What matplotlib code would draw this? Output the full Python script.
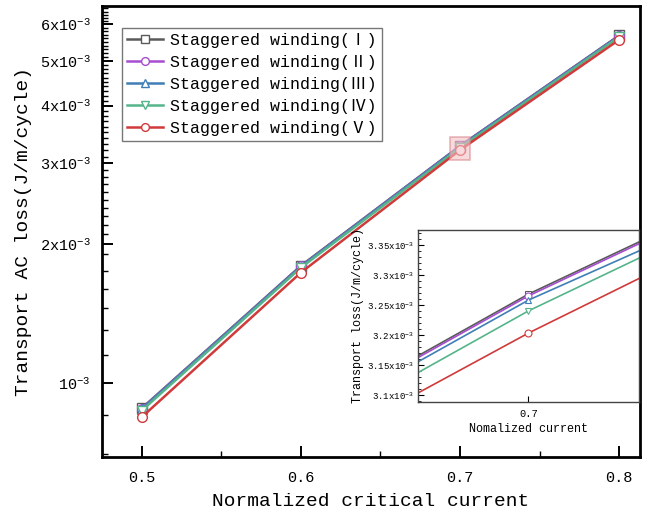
import matplotlib
matplotlib.use("Agg")
import matplotlib.pyplot as plt
import numpy as np
from matplotlib.ticker import FixedLocator, FuncFormatter, NullFormatter
from matplotlib.patches import Rectangle

plt.rcParams['font.family'] = ['Liberation Mono', 'Noto Sans CJK SC', 'DejaVu Sans']
plt.rcParams['mathtext.fontset'] = 'custom'
plt.rcParams['mathtext.rm'] = 'Liberation Mono'
plt.rcParams['mathtext.it'] = 'Liberation Mono'

# ---------------- data ----------------
x_current = [0.5, 0.6, 0.7, 0.8]
series_names = ['Staggered winding(Ⅰ)', 'Staggered winding(Ⅱ)', 'Staggered winding(Ⅲ)',
                'Staggered winding(Ⅳ)', 'Staggered winding(Ⅴ)']
loss_I = [0.880e-3, 1.795e-3, 3.268e-3, 5.68e-3]
loss_II = [0.878e-3, 1.790e-3, 3.265e-3, 5.67e-3]
loss_III = [0.876e-3, 1.787e-3, 3.258e-3, 5.66e-3]
loss_IV = [0.870e-3, 1.778e-3, 3.240e-3, 5.64e-3]
loss_V = [0.842e-3, 1.735e-3, 3.203e-3, 5.56e-3]

# inset (zoom around 0.7)
inset_x = [0.694, 0.7, 0.706]
inset_I = [3.165e-3, 3.268e-3, 3.355e-3]
inset_II = [3.162e-3, 3.265e-3, 3.352e-3]
inset_III = [3.155e-3, 3.258e-3, 3.340e-3]
inset_IV = [3.137e-3, 3.240e-3, 3.328e-3]
inset_V = [3.103e-3, 3.203e-3, 3.294e-3]

main_yticks = [1e-3, 2e-3, 3e-3, 4e-3, 5e-3, 6e-3]
main_yticklabels = [r'$\mathregular{10^{-3}}$', r'$\mathregular{2x10^{-3}}$', r'$\mathregular{3x10^{-3}}$',
                    r'$\mathregular{4x10^{-3}}$', r'$\mathregular{5x10^{-3}}$', r'$\mathregular{6x10^{-3}}$']
inset_yticks = [3.10e-3, 3.15e-3, 3.20e-3, 3.25e-3, 3.30e-3, 3.35e-3]
inset_yticklabels = [r'$\mathregular{3.1x10^{-3}}$', r'$\mathregular{3.15x10^{-3}}$', r'$\mathregular{3.2x10^{-3}}$',
                     r'$\mathregular{3.25x10^{-3}}$', r'$\mathregular{3.3x10^{-3}}$', r'$\mathregular{3.35x10^{-3}}$']

colors = ['#5a5a5a', '#a64dd0', '#3f7fb5', '#55b48a', '#d03a3a']
markers = ['s', 'o', '^', 'v', 'o']
main_series = [loss_I, loss_II, loss_III, loss_IV, loss_V]
inset_series = [inset_I, inset_II, inset_III, inset_IV, inset_V]

# ---------------- figure ----------------
fig = plt.figure(figsize=(6.49, 5.22), dpi=100)
ax = fig.add_axes([0.157, 0.1245, 0.829, 0.864])

for ys, c, m, name in zip(main_series, colors, markers, series_names):
    ax.plot(x_current, ys, color=c, lw=1.8, marker=m, ms=7, mfc='white', mec=c,
            mew=1.0, label=name)

ax.add_patch(Rectangle((0.694, 3.05e-3), 0.0125, 0.36e-3, facecolor='#f4c0c6',
                       edgecolor='#d88890', lw=1.2, alpha=0.6, zorder=5))

ax.set_yscale('log')
ax.set_xlim(0.475, 0.813)
ax.set_ylim(6.9e-4, 6.58e-3)
ax.xaxis.set_major_locator(FixedLocator(x_current))
ax.xaxis.set_minor_locator(FixedLocator([0.55, 0.65, 0.75]))
ax.set_xticklabels(['0.5', '0.6', '0.7', '0.8'])
ax.yaxis.set_major_locator(FixedLocator(main_yticks))
ax.yaxis.set_major_formatter(FuncFormatter(lambda v, p: ''))
ax.set_yticklabels(main_yticklabels)
minor = ([v for v in np.arange(7e-4, 2e-3, 1.5e-4) if abs(v - 1e-3) > 4e-5] +
         [v for v in np.arange(2.1e-3, 6.6e-3, 1e-4) if all(abs(v - t) > 1e-5 for t in main_yticks)])
ax.yaxis.set_minor_locator(FixedLocator(minor))
ax.yaxis.set_minor_formatter(NullFormatter())
ax.tick_params(which='major', direction='in', length=8, width=1.4, labelsize=11, pad=10,
               top=False, right=False)
ax.tick_params(axis='y', which='major', pad=8)
ax.tick_params(which='minor', direction='in', length=4, width=1.0, top=False, right=False)
for s in ax.spines.values():
    s.set_linewidth(2.0)
ax.set_xlabel('Normalized critical current', fontsize=14, labelpad=6)
ax.set_ylabel('Transport AC loss(J/m/cycle)', fontsize=14, labelpad=6)

leg = ax.legend(loc='upper left', bbox_to_anchor=(0.037, 0.951), fontsize=12,
                frameon=True, fancybox=False, edgecolor='#555555', handlelength=2.2,
                handletextpad=0.4, borderpad=0.3, labelspacing=0.42, borderaxespad=0.0,
                markerscale=0.8)
leg.get_frame().set_linewidth(1.0)

# ---------------- inset ----------------
axi = fig.add_axes([0.644, 0.2299, 0.3405, 0.3295])
for ys, c, m in zip(inset_series, colors, markers):
    axi.plot(inset_x, ys, color=c, lw=1.2)
    axi.plot([inset_x[1]], [ys[1]], linestyle='none', marker=m, ms=5, mfc='white', mec=c, mew=0.8)
axi.set_xlim(0.694, 0.706)
axi.set_ylim(3.088e-3, 3.375e-3)
axi.xaxis.set_major_locator(FixedLocator([0.7]))
axi.set_xticklabels(['0.7'])
axi.yaxis.set_major_locator(FixedLocator(inset_yticks))
axi.set_yticklabels(inset_yticklabels)
axi.yaxis.set_minor_locator(FixedLocator(np.arange(3.09e-3, 3.375e-3, 0.01e-3)))
axi.yaxis.set_minor_formatter(NullFormatter())
axi.tick_params(which='major', direction='in', length=4, width=0.8, labelsize=6.5, pad=3,
                top=False, right=False)
axi.tick_params(axis='x', which='major', labelsize=7.5, pad=5)
axi.tick_params(which='minor', direction='in', length=2, width=0.6, top=False, right=False)
for s in axi.spines.values():
    s.set_linewidth(1.0)
    s.set_color('#444444')
axi.set_xlabel('Nomalized current', fontsize=8.5, labelpad=3)
axi.set_ylabel('Transport loss(J/m/cycle)', fontsize=8.5, labelpad=2)

fig.savefig('out.png', dpi=100)
